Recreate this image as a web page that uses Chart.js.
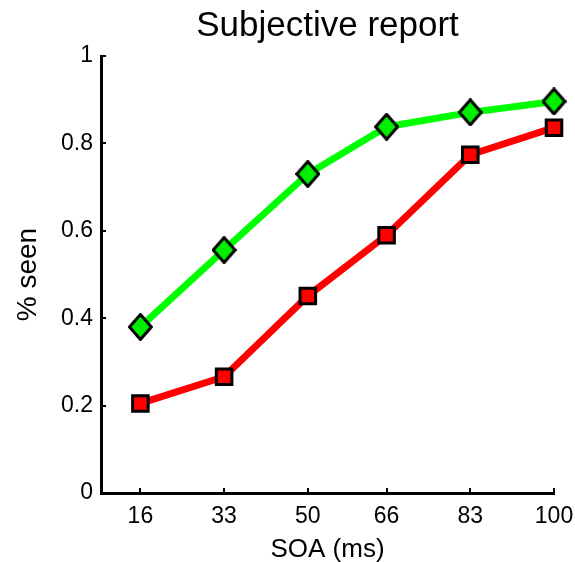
<!DOCTYPE html>
<html>
<head>
<meta charset="utf-8">
<script src="https://cdn.jsdelivr.net/npm/chart.js@4"></script>
<style>
  html, body { margin: 0; padding: 0; background: #fff; }
  #wrap { width: 575px; height: 562px; }
</style>
</head>
<body>
<div id="wrap"><canvas id="chart"></canvas></div>
<script>
// valores
const soa = [16, 33, 50, 66, 83, 100];
const seenGreen = [0.38, 0.556, 0.73, 0.838, 0.871, 0.896];
const seenRed = [0.205, 0.266, 0.451, 0.59, 0.774, 0.836];
const yTicks = [0, 0.2, 0.4, 0.6, 0.8, 1];

const FONT = '"Liberation Sans", Arial, Helvetica, sans-serif';

// marcador de rombo (un poco mas alto que ancho, como en la figura)
function makeDiamond(w, h, fill) {
  const c = document.createElement('canvas');
  c.width = w; c.height = h;
  const g = c.getContext('2d');
  const lw = 3;
  g.beginPath();
  g.moveTo(w / 2, lw / 2);
  g.lineTo(w - lw / 2, h / 2);
  g.lineTo(w / 2, h - lw / 2);
  g.lineTo(lw / 2, h / 2);
  g.closePath();
  g.fillStyle = fill;
  g.fill();
  g.lineWidth = lw;
  g.strokeStyle = '#000';
  g.stroke();
  return c;
}

// ticks cortos hacia dentro, estilo matlab
const innerTicks = {
  id: 'innerTicks',
  afterDraw(chart) {
    const { ctx, chartArea, scales } = chart;
    ctx.save();
    ctx.strokeStyle = '#000';
    ctx.lineWidth = 2;
    ctx.beginPath();
    scales.x.ticks.forEach(t => {
      const px = Math.round(scales.x.getPixelForValue(t.value));
      ctx.moveTo(px, chartArea.bottom);
      ctx.lineTo(px, chartArea.bottom - 5);
    });
    scales.y.ticks.forEach(t => {
      const py = Math.round(scales.y.getPixelForValue(t.value));
      ctx.moveTo(chartArea.left, py);
      ctx.lineTo(chartArea.left + 5, py);
    });
    ctx.stroke();
    ctx.restore();
  }
};

new Chart(document.getElementById('chart'), {
  type: 'line',
  data: {
    datasets: [
      {
        label: 'red',
        data: soa.map((x, i) => ({ x, y: seenRed[i] })),
        borderColor: '#ff0000',
        backgroundColor: '#ff0000',
        borderWidth: 7,
        clip: false,
        pointStyle: 'rect',
        pointRadius: 11,
        pointBorderWidth: 3,
        pointBorderColor: '#000',
        pointBackgroundColor: '#ff0000'
      },
      {
        label: 'green',
        data: soa.map((x, i) => ({ x, y: seenGreen[i] })),
        borderColor: '#00ff00',
        backgroundColor: '#00ff00',
        borderWidth: 7,
        clip: false,
        pointStyle: makeDiamond(25, 28, '#00ee00'),
        pointRadius: 12
      }
    ]
  },
  options: {
    responsive: true,
    maintainAspectRatio: false,
    animation: false,
    layout: { padding: { left: 0, right: 21, top: 0, bottom: 0 } },
    plugins: {
      legend: { display: false },
      tooltip: { enabled: false },
      title: {
        display: true,
        fullSize: false,
        text: 'Subjective report',
        color: '#000',
        font: { family: FONT, size: 35, weight: 'normal' },
        padding: { top: 5, bottom: 9 }
      }
    },
    scales: {
      x: {
        type: 'linear',
        min: 8,
        max: 100,
        afterBuildTicks: s => { s.ticks = soa.map(v => ({ value: v })); },
        afterFit: s => { s.height = 69; s.paddingRight = 0; },
        grid: { drawOnChartArea: false, drawTicks: false },
        border: { display: true, color: '#000', width: 3 },
        ticks: { color: '#000', font: { family: FONT, size: 23 }, padding: 10, maxRotation: 0 },
        title: {
          display: true,
          text: 'SOA (ms)',
          color: '#000',
          font: { family: FONT, size: 26 },
          padding: { top: 0, bottom: -3 }
        }
      },
      y: {
        min: 0,
        max: 1,
        afterBuildTicks: s => { s.ticks = yTicks.map(v => ({ value: v })); },
        afterFit: s => { s.width = 101; s.paddingTop = 0; },
        grid: { drawOnChartArea: false, drawTicks: false },
        border: { display: true, color: '#000', width: 3 },
        ticks: {
          color: '#000',
          font: { family: FONT, size: 23 },
          padding: 8,
          callback: v => (v === 0 || v === 1) ? String(v) : v.toFixed(1)
        },
        title: {
          display: true,
          text: '% seen',
          color: '#000',
          font: { family: FONT, size: 28 },
          padding: { top: 11, bottom: 0 }
        }
      }
    }
  },
  plugins: [innerTicks]
});
</script>
</body>
</html>
